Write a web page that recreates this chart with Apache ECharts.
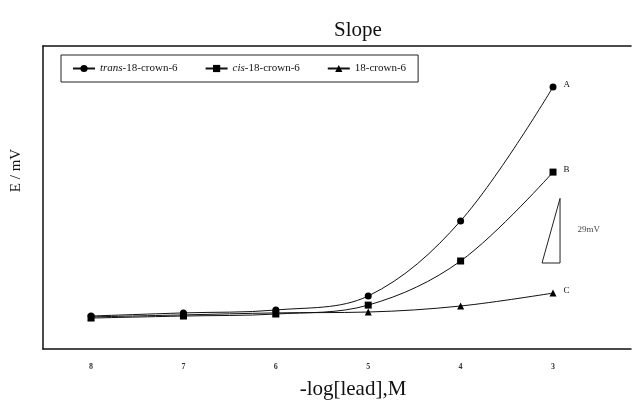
<!DOCTYPE html>
<html>
<head>
<meta charset="utf-8">
<script src="https://cdn.jsdelivr.net/npm/echarts@6/dist/echarts.min.js"></script>
<style>
  html, body { margin: 0; padding: 0; background: #fff; }
  #chart { width: 635px; height: 405px; }
</style>
</head>
<body>
<div id="chart"></div>
<script>
// -log[lead] concentration points
const xValues = [8, 7, 6, 5, 4, 3];
const xTicks = [8, 7, 6, 5, 4, 3];

// potential in mV (relative)
const transValues = [14.8, 16.2, 17.5, 23.8, 57.5, 117.6];
const cisValues = [13.9, 14.8, 15.7, 19.7, 39.5, 79.4];
const crownValues = [14.4, 15.3, 16.2, 16.6, 19.3, 25.1];

const curveLetters = ['A', 'B', 'C'];

// 29 mV slope marker triangle
const slopeX = [3.119, 2.924, 2.924, 3.119];
const slopeY = [38.6, 38.6, 67.6, 38.6];
const slopeLabel = '29mV';
const slopeLabelPos = [2.735, 53.5];

const serif = '"Liberation Serif", "DejaVu Serif", serif';

function pairs(xs, ys) {
    return xs.map((x, i) => [x, ys[i]]);
}

function curve(name, values, symbol, size, letter) {
    return {
        name: name,
        type: 'line',
        data: pairs(xValues, values),
        smooth: 0.35,
        symbol: symbol,
        symbolSize: size,
        showAllSymbol: true,
        lineStyle: { color: '#111', width: 1 },
        itemStyle: { color: '#000' },
        label: {
            show: true,
            position: 'right',
            distance: 7,
            offset: [0, -2],
            fontFamily: serif,
            fontSize: 9,
            color: '#111',
            formatter: p => p.dataIndex === values.length - 1 ? letter : ''
        },
        emphasis: { disabled: true },
        z: 3
    };
}

const chart = echarts.init(document.getElementById('chart'));

chart.setOption({
    animation: false,
    backgroundColor: '#fff',
    title: {
        text: 'Slope',
        left: 353,
        top: 15,
        textAlign: 'center',
        textStyle: { fontFamily: serif, fontSize: 21, fontWeight: 'normal', color: '#111' }
    },
    legend: {
        left: 61,
        top: 55,
        padding: [8, 12, 8, 11],
        itemGap: 27,
        itemWidth: 22,
        itemHeight: 9,
        borderColor: '#222',
        borderWidth: 1,
        data: ['trans-18-crown-6', 'cis-18-crown-6', '18-crown-6'],
        formatter: name => name.startsWith('trans')
            ? '{i|trans}{n|-18-crown-6}'
            : name.startsWith('cis') ? '{i|cis}{n|-18-crown-6}' : '{n|' + name + '}',
        textStyle: {
            fontFamily: serif,
            fontSize: 11,
            color: '#111',
            rich: {
                i: { fontFamily: serif, fontSize: 11, fontStyle: 'italic', color: '#111' },
                n: { fontFamily: serif, fontSize: 11, color: '#111' }
            }
        }
    },
    grid: { left: 43, right: 4, top: 46, bottom: 56 },
    xAxis: [{
        type: 'value',
        inverse: true,
        min: 2.156,
        max: 8.52,
        name: '-log[lead],M',
        nameLocation: 'middle',
        nameGap: 30,
        nameTextStyle: {
            fontFamily: serif, fontSize: 21, color: '#111',
            verticalAlign: 'top', padding: [0, 0, 0, 32]
        },
        axisLine: { show: true, onZero: false, lineStyle: { color: '#111', width: 1.5 } },
        axisTick: { show: false },
        splitLine: { show: false },
        axisLabel: {
            margin: 14,
            fontFamily: serif,
            fontSize: 8,
            fontWeight: 'bold',
            color: '#333',
            formatter: v => xTicks.includes(v) ? String(v) : ''
        }
    }, {
        type: 'value',
        position: 'top',
        inverse: true,
        min: 2.156,
        max: 8.52,
        axisLine: { show: true, onZero: false, lineStyle: { color: '#111', width: 1.5 } },
        axisTick: { show: false },
        axisLabel: { show: false },
        splitLine: { show: false }
    }],
    yAxis: {
        type: 'value',
        min: 0,
        max: 136,
        name: 'E / mV',
        nameLocation: 'middle',
        nameGap: 19,
        nameTextStyle: { fontFamily: serif, fontSize: 15, color: '#111', padding: [0, 0, 0, 54] },
        axisLine: { show: true, onZero: false, lineStyle: { color: '#111', width: 1.5 } },
        axisTick: { show: false },
        axisLabel: { show: false },
        splitLine: { show: false }
    },
    series: [
        curve('trans-18-crown-6', transValues, 'circle', 7, curveLetters[0]),
        curve('cis-18-crown-6', cisValues, 'rect', 7, curveLetters[1]),
        curve('18-crown-6', crownValues, 'triangle', 7, curveLetters[2]),
        {
            name: 'slope',
            type: 'line',
            data: pairs(slopeX, slopeY),
            symbol: 'none',
            lineStyle: { color: '#222', width: 1 },
            emphasis: { disabled: true },
            silent: true
        },
        {
            name: 'slopeText',
            type: 'scatter',
            data: [slopeLabelPos],
            symbolSize: 0,
            silent: true,
            label: {
                show: true,
                position: 'right',
                distance: 0,
                formatter: slopeLabel,
                fontFamily: serif,
                fontSize: 9,
                color: '#111'
            }
        }
    ]
});
</script>
</body>
</html>
